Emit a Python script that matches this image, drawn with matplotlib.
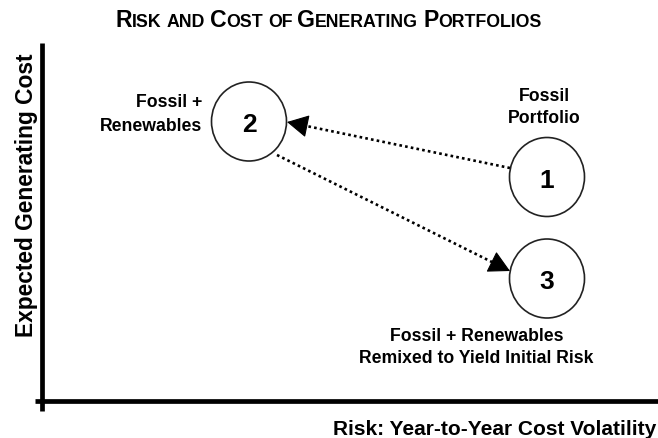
import matplotlib
matplotlib.use("Agg")
import matplotlib.pyplot as plt
import numpy as np
from matplotlib.patches import Ellipse

# ---- data (figure pixel units, y measured upward) ----
portfolio_ids = ["1", "2", "3"]
risk = [547, 249, 547]          # horizontal position of each portfolio
cost = [261, 316.5, 159.5]      # vertical position of each portfolio
arrow_from = [(510, 270), (277, 283)]
arrow_to = [(287, 316), (510, 167)]

title_words = [("R", "ISK"), ("", "AND"), ("C", "OST"), ("", "OF"),
               ("G", "ENERATING"), ("P", "ORTFOLIOS")]
xlabel = "Risk: Year-to-Year Cost Volatility"
ylabel = "Expected Generating Cost"

W, H = 658, 439
plt.rcParams['font.family'] = ['Liberation Sans', 'DejaVu Sans']
fig = plt.figure(figsize=(W / 100, H / 100), dpi=100)
ax = fig.add_axes([0, 0, 1, 1])
ax.set_xlim(0, W)
ax.set_ylim(0, H)
ax.axis('off')

# axes lines
ax.plot([42, 42], [27, 395], color='black', lw=3.4, solid_capstyle='butt')
ax.plot([35, 658], [37, 37], color='black', lw=3.4, solid_capstyle='butt')

# circles with numbers
for pid, x, y in zip(portfolio_ids, risk, cost):
    ax.add_patch(Ellipse((x, y), 75, 79, facecolor='white', edgecolor='#222222', lw=1.2, zorder=3))
    ax.text(x, y - 9.5, pid, fontsize=19, fontweight='bold', ha='center', va='baseline', zorder=4)

# dotted arrows with solid heads
head_len = 19.0
for (x0, y0), (x1, y1) in zip(arrow_from, arrow_to):
    d = np.array([x1 - x0, y1 - y0], dtype=float)
    u = d / np.hypot(*d)
    bx, by = x1 - u[0] * head_len, y1 - u[1] * head_len
    ax.plot([x0, bx], [y0, by], color='black', lw=1.9, linestyle=(0, (1, 1.2)),
            dash_capstyle='butt', zorder=5)
    ax.annotate("", xy=(x1, y1), xytext=(bx, by),
                arrowprops=dict(arrowstyle='-|>,head_length=1.05,head_width=0.56',
                                mutation_scale=13, color='black', lw=0.8,
                                shrinkA=0, shrinkB=0),
                zorder=6)

# labels
fs = 12.7
ax.text(202, 332, "Fossil +", fontsize=fs, fontweight='bold', ha='right', va='baseline')
ax.text(202, 308, "Renewables", fontsize=fs, fontweight='bold', ha='right', va='baseline')
ax.text(544, 338, "Fossil", fontsize=fs, fontweight='bold', ha='center', va='baseline')
ax.text(544, 316, "Portfolio", fontsize=fs, fontweight='bold', ha='center', va='baseline')
ax.text(476.5, 98, "Fossil + Renewables", fontsize=fs, fontweight='bold', ha='center', va='baseline')
ax.text(476.5, 76, "Remixed to Yield Initial Risk", fontsize=fs, fontweight='bold', ha='center', va='baseline')

ax.text(656, 4, xlabel, fontsize=15, fontweight='bold', ha='right', va='baseline')
ax.text(33, 244, ylabel, fontsize=16.4, fontweight='bold', rotation=90,
        rotation_mode='anchor', ha='center', va='baseline')

# small-caps title built from pieces
big_fs, small_fs = 16.6, 12.8
title_base = 412
fig.canvas.draw()
renderer = fig.canvas.get_renderer()
pieces = []
for big, small in title_words:
    for s, f in ((big, big_fs), (small, small_fs)):
        if s:
            t = ax.text(0, title_base, s, fontsize=f, fontweight='bold', ha='left', va='baseline')
            w = t.get_window_extent(renderer).width
            pieces.append((t, w, False))
    pieces[-1] = (pieces[-1][0], pieces[-1][1], True)  # word end
gap = 0.278 * small_fs * 100 / 72
total = sum(w for _, w, _ in pieces) + gap * (len(title_words) - 1)
x = 328.5 - total / 2
for t, w, end in pieces:
    t.set_x(x)
    x += w + (gap if end else 0)

fig.savefig("out.png", dpi=100)
